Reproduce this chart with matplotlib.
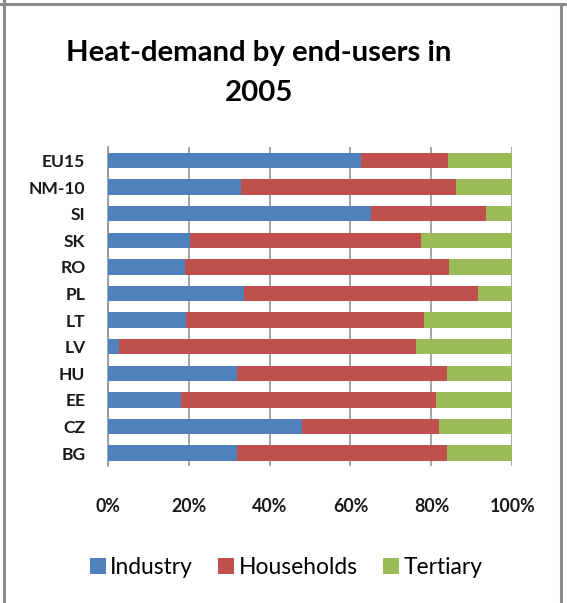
import matplotlib
matplotlib.use("Agg")
import matplotlib.pyplot as plt
from matplotlib.lines import Line2D
from matplotlib.patches import Patch
import numpy as np

# Share of heat demand (%) by end-user group, 2005
countries = ["EU15", "NM-10", "SI", "SK", "RO", "PL", "LT", "LV", "HU", "EE", "CZ", "BG"]
industry = [62.6, 32.9, 65.2, 20.3, 19.2, 33.7, 19.4, 2.8, 32.0, 18.0, 48.0, 32.0]
households = [21.6, 53.1, 28.3, 57.1, 65.2, 57.7, 58.7, 73.3, 51.9, 63.2, 33.9, 51.9]
tertiary = [15.8, 14.0, 6.5, 22.6, 15.6, 8.6, 21.9, 23.9, 16.1, 18.8, 18.1, 16.1]
series_names = ["Industry", "Households", "Tertiary"]
colors = ["#4F81BD", "#C0504D", "#9BBB59"]
xticks = [0, 20, 40, 60, 80, 100]
xtick_labels = ["0%", "20%", "40%", "60%", "80%", "100%"]

W, H = 567, 603
fig = plt.figure(figsize=(W / 100, H / 100), dpi=100)
fam = ["Lato", "DejaVu Sans"]

ax = fig.add_axes([107.7 / W, 1 - 466.3 / H, (512.3 - 107.7) / W, (466.3 - 147.2) / H])

y = np.arange(len(countries))
left = np.zeros(len(countries))
for vals, name, c in zip([industry, households, tertiary], series_names, colors):
    ax.barh(y, vals, left=left, height=0.58, color=c, label=name, zorder=3)
    left = left + np.array(vals)

ax.set_ylim(len(countries) - 0.5, -0.5)
ax.set_xlim(0, 100)
ax.set_xticks(xticks)
ax.set_xticklabels(xtick_labels, fontfamily=fam, fontweight="bold", fontsize=12.8, color="#1a1a1a")
ax.set_yticks(y)
ax.set_yticklabels(countries, fontfamily=fam, fontweight="bold", fontsize=12.6, color="#1a1a1a")
ax.tick_params(axis="x", length=0, pad=23)
ax.tick_params(axis="y", length=0, pad=16)
ax.grid(axis="x", color="#8c8c8c", linewidth=1.1, zorder=0)
for s in ["top", "right", "bottom"]:
    ax.spines[s].set_visible(False)
ax.spines["left"].set_color("#8c8c8c")
ax.spines["left"].set_linewidth(1.1)

# Title
fig.text(259 / W, 1 - 61 / H, "Heat-demand by end-users in", ha="center", va="baseline",
         fontfamily=fam, fontweight="bold", fontsize=21.2)
fig.text(259 / W, 1 - 101 / H, "2005", ha="center", va="baseline",
         fontfamily=fam, fontweight="bold", fontsize=21.2)

# Legend
handles = [Patch(facecolor=c, edgecolor="none") for c in colors]
fig.legend(handles, series_names, loc="center", bbox_to_anchor=(286 / W, 1 - 567 / H),
           ncol=3, frameon=False, prop={"family": fam, "size": 16.4},
           handlelength=0.7, handleheight=0.7, handletextpad=0.2, columnspacing=1.1)

# Outer frame
frame_kw = dict(color="#8c8c8c", linewidth=2.2, transform=fig.transFigure)
fig.add_artist(Line2D([4 / W, 4 / W], [0, 1], **frame_kw))
fig.add_artist(Line2D([0, 1], [1 - 4 / H, 1 - 4 / H], **frame_kw))
fig.add_artist(Line2D([561.3 / W, 561.3 / W], [0, 1 - 4 / H], **frame_kw))

fig.savefig("out.png", dpi=100)
